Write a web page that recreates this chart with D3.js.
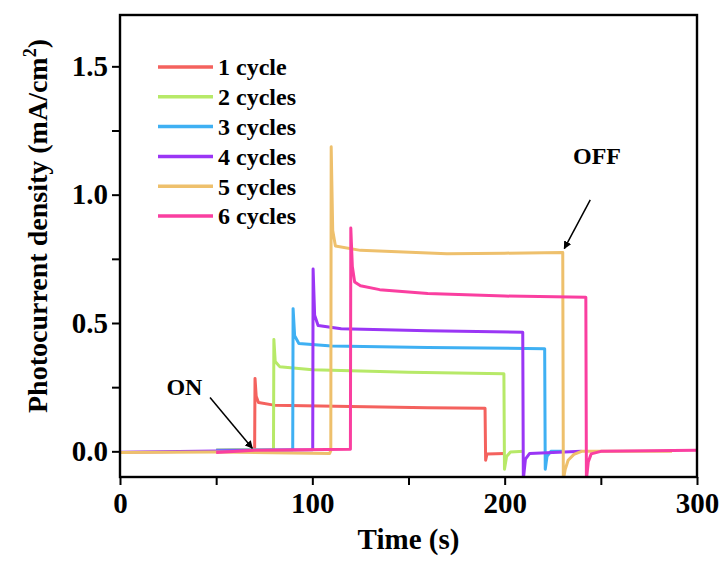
<!DOCTYPE html>
<html>
<head>
<meta charset="utf-8">
<script src="https://cdn.jsdelivr.net/npm/d3@7"></script>
<style>
  body { margin: 0; background: #fff; }
  svg text { font-family: "Liberation Serif", "Times New Roman", serif; font-weight: bold; }
</style>
</head>
<body>
<div id="chart"></div>
<script>
// series: [time (s), current density (mA/cm2)]
var seriesNames = ["1 cycle", "2 cycles", "3 cycles", "4 cycles", "5 cycles", "6 cycles"];
var seriesColors = ["#f4625e", "#b7e968", "#3fb0f3", "#9a36f5", "#eec06c", "#fa3fa0"];

var cycle1 = [[50,0.004],[70,0.006],[70.2,0.284],[70.8,0.215],[72,0.19],[80,0.18],[120,0.175],[160,0.17],[189.8,0.168],[190.1,-0.035],[190.8,-0.01],[200,-0.008]];
var cycle2 = [[50,0.004],[79.8,0.006],[80,0.436],[80.7,0.35],[83,0.33],[100,0.318],[150,0.308],[199.6,0.302],[199.9,-0.07],[201,-0.02],[203,-0.003],[210,0]];
var cycle3 = [[50,0.004],[89.8,0.006],[90,0.556],[90.8,0.45],[93,0.42],[110,0.41],[160,0.405],[220.8,0.4],[221.1,-0.07],[222,-0.02],[224,0],[230,0]];
var cycle4 = [[0,-0.004],[100.2,0.006],[100.4,0.71],[101.2,0.53],[103,0.49],[115,0.478],[160,0.47],[209.4,0.464],[209.7,-0.11],[210.8,-0.03],[213,-0.008],[240,0]];
var cycle5 = [[0,-0.005],[50,-0.003],[109,-0.008],[109.6,0.003],[109.8,1.187],[110.6,0.86],[112,0.8],[125,0.783],[170,0.77],[200,0.772],[230.2,0.775],[230.5,-0.11],[231.5,-0.07],[233,-0.035],[236,-0.012],[240,0],[287,0]];
var cycle6 = [[50,-0.005],[70,0.004],[119.8,0.008],[120,0.87],[120.8,0.72],[122,0.66],[125,0.645],[135,0.63],[160,0.615],[200,0.605],[242.2,0.6],[242.5,-0.11],[243.5,-0.04],[245,-0.01],[250,0],[300,0.004]];
var allSeries = [cycle1, cycle2, cycle3, cycle4, cycle5, cycle6];

var xTicks = [0, 100, 200, 300];
var yTicks = [0.0, 0.5, 1.0, 1.5];

var margin = {top: 15, right: 24, bottom: 86, left: 120},
    w = 721, h = 563,
    iw = w - margin.left - margin.right,
    ih = h - margin.top - margin.bottom;

var x = d3.scaleLinear().domain([0, 300]).range([0, iw]);
var y = d3.scaleLinear().domain([-0.1, 1.7]).range([ih, 0]);

var svg = d3.select("#chart").append("svg")
    .attr("width", w)
    .attr("height", h);

var defs = svg.append("defs");
defs.append("clipPath").attr("id", "clip")
  .append("rect").attr("width", iw).attr("height", ih);
var marker = defs.append("marker")
    .attr("id", "arrow")
    .attr("viewBox", "0 0 10 10")
    .attr("refX", 9).attr("refY", 5)
    .attr("markerWidth", 8).attr("markerHeight", 8)
    .attr("markerUnits", "userSpaceOnUse")
    .attr("orient", "auto");
marker.append("path").attr("d", "M0,0 L10,5 L0,10 z").attr("fill", "#000");

var g = svg.append("g").attr("transform", "translate(" + margin.left + "," + margin.top + ")");

var line = d3.line()
    .x(function(d){ return x(d[0]); })
    .y(function(d){ return y(d[1]); });

g.append("g").attr("clip-path", "url(#clip)")
  .selectAll("path")
  .data(allSeries)
  .enter().append("path")
    .attr("d", line)
    .attr("fill", "none")
    .attr("stroke", function(d, i){ return seriesColors[i]; })
    .attr("stroke-width", 3)
    .attr("stroke-linejoin", "round");

// axes
var xAxis = g.append("g").attr("transform", "translate(0," + ih + ")")
    .call(d3.axisBottom(x).tickValues(xTicks).tickSize(8).tickPadding(7).tickFormat(d3.format("d")));
var xMinor = g.append("g").attr("transform", "translate(0," + ih + ")")
    .call(d3.axisBottom(x).tickValues([50, 150, 250]).tickSize(8).tickFormat(""));
var yAxis = g.append("g")
    .call(d3.axisLeft(y).tickValues(yTicks).tickSize(8).tickPadding(4).tickFormat(d3.format(".1f")));
var yMinor = g.append("g")
    .call(d3.axisLeft(y).tickValues([0.25, 0.75, 1.25]).tickSize(8).tickFormat(""));

[xAxis, xMinor, yAxis, yMinor].forEach(function(a){
    a.select(".domain").remove();
    a.selectAll("line").attr("stroke", "#000").attr("stroke-width", 2);
    a.selectAll("text").attr("fill", "#000").style("font-size", "29px");
});

g.append("rect")
    .attr("width", iw).attr("height", ih)
    .attr("fill", "none").attr("stroke", "#000").attr("stroke-width", 2.4);

// titles
svg.append("text")
    .attr("x", margin.left + iw / 2).attr("y", 549)
    .attr("text-anchor", "middle")
    .style("font-size", "29px")
    .text("Time (s)");

var yt = svg.append("text")
    .attr("transform", "translate(47," + (margin.top + ih / 2 - 20) + ") rotate(-90)")
    .attr("text-anchor", "middle")
    .style("font-size", "28px");
yt.append("tspan").text("Photocurrent density (mA/cm");
yt.append("tspan").attr("dy", -11).style("font-size", "18px").text("2");
yt.append("tspan").attr("dy", 11).text(")");

// legend
var legend = g.selectAll(".legend")
    .data(seriesNames)
    .enter().append("g")
    .attr("class", "legend")
    .attr("transform", function(d, i){ return "translate(38," + (52 + i * 29.8) + ")"; });
legend.append("line")
    .attr("x1", 0).attr("x2", 55)
    .attr("stroke", function(d, i){ return seriesColors[i]; })
    .attr("stroke-width", 3.5);
legend.append("text")
    .attr("x", 60).attr("dy", "0.35em")
    .style("font-size", "24px")
    .text(function(d){ return d; });

// annotations
g.append("text").attr("x", x(33.5)).attr("y", y(0.22)).attr("text-anchor", "middle")
    .style("font-size", "24px").text("ON");
g.append("line")
    .attr("x1", x(46.8)).attr("y1", y(0.21))
    .attr("x2", x(68.8)).attr("y2", y(0.012))
    .attr("stroke", "#000").attr("stroke-width", 1.5)
    .attr("marker-end", "url(#arrow)");

g.append("text").attr("x", x(248)).attr("y", y(1.12)).attr("text-anchor", "middle")
    .style("font-size", "24px").text("OFF");
g.append("line")
    .attr("x1", x(244.5)).attr("y1", y(0.98))
    .attr("x2", x(231)).attr("y2", y(0.79))
    .attr("stroke", "#000").attr("stroke-width", 1.5)
    .attr("marker-end", "url(#arrow)");
</script>
</body>
</html>
